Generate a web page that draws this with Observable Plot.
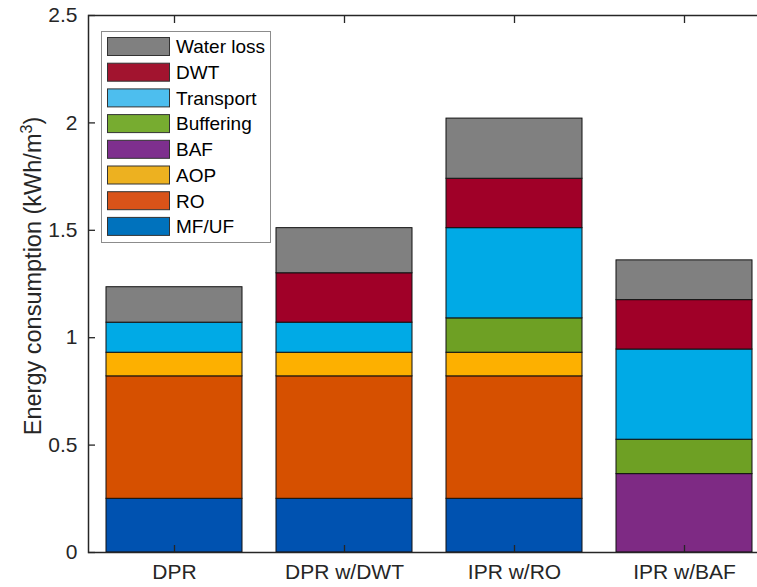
<!DOCTYPE html>
<html>
<head>
<meta charset="utf-8">
<script src="https://cdn.jsdelivr.net/npm/d3@7"></script>
<script src="https://cdn.jsdelivr.net/npm/@observablehq/plot@0.6"></script>
<style>
  html, body { margin: 0; padding: 0; background: #fff; }
  #chart { width: 757px; height: 587px; overflow: hidden; }
  svg { font-family: "Liberation Sans", Arial, Helvetica, sans-serif; }
</style>
</head>
<body>
<div id="chart"></div>
<script>
// Categories and series
const categories = ["DPR", "DPR w/DWT", "IPR w/RO", "IPR w/BAF"];
const series = ["MF/UF", "RO", "AOP", "BAF", "Buffering", "Transport", "DWT", "Water loss"];

// Values (kWh/m3) per category, in category order
const mfuf      = [0.25, 0.25, 0.25, 0];
const ro        = [0.57, 0.57, 0.57, 0];
const aop       = [0.11, 0.11, 0.11, 0];
const baf       = [0, 0, 0, 0.365];
const buffering = [0, 0, 0.16, 0.16];
const transport = [0.14, 0.14, 0.42, 0.42];
const dwt       = [0, 0.23, 0.23, 0.23];
const waterLoss = [0.165, 0.21, 0.28, 0.185];

const yTickValues = [0, 0.5, 1, 1.5, 2, 2.5];

// Colours
const barColors    = ["#0052B0", "#D65000", "#FDB000", "#7E2A84", "#6EA024", "#00AAE6", "#A00028", "#808080"];
const legendColors = ["#0072BD", "#D95319", "#EDB120", "#7E2F8E", "#77AC30", "#4DBEEE", "#A2142F", "#808080"];

const valuesBySeries = [mfuf, ro, aop, baf, buffering, transport, dwt, waterLoss];
const table = [];
series.forEach((s, i) => {
  categories.forEach((c, j) => {
    const v = valuesBySeries[i][j];
    if (v > 0) table.push({category: c, series: s, value: v});
  });
});

const axisColor = "#262626";
const W = 757, H = 587;

const chart = Plot.plot({
  width: W,
  height: H,
  marginLeft: 88,
  marginRight: -12,
  marginTop: 15,
  marginBottom: 35,
  style: {fontFamily: '"Liberation Sans", Arial, Helvetica, sans-serif', background: "#fff"},
  x: {domain: categories, paddingInner: 0.2, paddingOuter: 0.1, align: 0.5, label: null},
  y: {domain: [0, 2.5], label: null},
  color: {domain: series, range: barColors},
  marks: [
    Plot.barY(table, {
      x: "category", y: "value", fill: "series", z: "series",
      order: series, stroke: "#111", strokeWidth: 1
    }),
    Plot.frame({stroke: axisColor, strokeWidth: 1.5}),
    // tick labels
    Plot.axisY({ticks: yTickValues, tickSize: 0, tickPadding: 11, fontSize: 21, color: axisColor, label: null, tickFormat: d => String(d)}),
    Plot.axisX({anchor: "bottom", tickSize: 0, tickPadding: 12, fontSize: 21, color: axisColor, label: null}),
    // inward ticks
    Plot.axisY({ticks: yTickValues, tickSize: 7, dx: 7, tickFormat: () => "", stroke: axisColor, strokeWidth: 1.3, label: null}),
    Plot.axisX({anchor: "bottom", tickSize: 7, dy: -7, tickFormat: () => "", stroke: axisColor, strokeWidth: 1.3, label: null}),
    Plot.axisX({anchor: "top", tickSize: 7, dy: 7, tickFormat: () => "", stroke: axisColor, strokeWidth: 1.3, label: null})
  ]
});

document.getElementById("chart").appendChild(chart);

const svg = d3.select(chart);

// Y axis title with superscript
const yl = svg.append("text")
  .attr("transform", "translate(41,276) rotate(-90)")
  .attr("text-anchor", "middle")
  .attr("fill", axisColor)
  .attr("font-size", 23.5);
yl.append("tspan").text("Energy consumption (kWh/m");
yl.append("tspan").attr("dy", -9).attr("font-size", 16).text("3");
yl.append("tspan").attr("dy", 9).text(")");

// Legend (top to bottom: reverse of stacking order)
const legendItems = series.map((s, i) => ({label: s, color: legendColors[i]})).reverse();
const lg = svg.append("g").attr("text-anchor", "start");
lg.append("rect")
  .attr("x", 101.5).attr("y", 31.5).attr("width", 169).attr("height", 211)
  .attr("fill", "#fff").attr("stroke", "#8c8c8c").attr("stroke-width", 1);
const rowH = 25.7;
legendItems.forEach((d, i) => {
  const cy = 46.5 + i * rowH;
  lg.append("rect")
    .attr("x", 107.5).attr("y", cy - 9).attr("width", 62).attr("height", 18)
    .attr("fill", d.color).attr("stroke", "#333").attr("stroke-width", 1);
  lg.append("text")
    .attr("x", 176).attr("y", cy).attr("dy", "0.36em")
    .attr("text-anchor", "start")
    .attr("font-size", 19).attr("fill", "#000")
    .text(d.label);
});
</script>
</body>
</html>
